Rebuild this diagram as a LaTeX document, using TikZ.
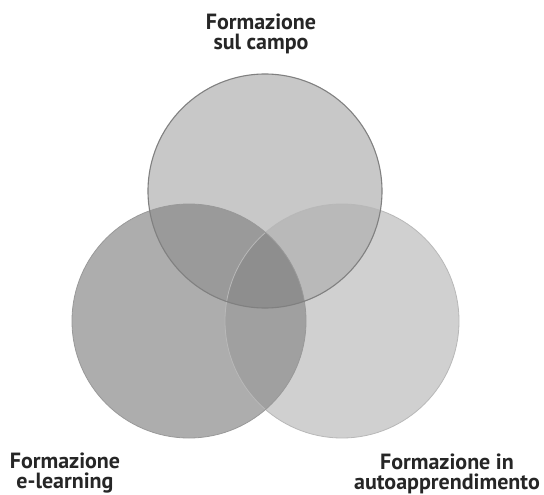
\documentclass[tikz,border=0pt]{standalone}
\usepackage{fontspec}
\setmainfont{PT Sans}
\definecolor{campofill}{HTML}{C8C8C8}
\definecolor{elearnfill}{HTML}{ADADAD}
\definecolor{autofill}{HTML}{D0D0D0}
\definecolor{campoelearn}{HTML}{9A9A9A}
\definecolor{campoauto}{HTML}{B9B9B9}
\definecolor{elearnauto}{HTML}{A0A0A0}
\definecolor{allthree}{HTML}{8E8E8E}
\definecolor{labeltext}{HTML}{262626}
\begin{document}
\begin{tikzpicture}[x=1pt,y=-1pt,
    vennlabel/.style={font=\bfseries\fontsize{22}{20}\selectfont, align=center, inner sep=0pt, text=labeltext}]
    \fill[white] (0,0) rectangle (544,495);
    \useasboundingbox (0,0) rectangle (544,495);
    \coordinate (campo) at (265,191);
    \coordinate (elearn) at (189,321);
    \coordinate (auto) at (342,321);
    % base fills
    \fill[elearnfill] (elearn) circle (117pt);
    \fill[autofill] (auto) circle (117pt);
    \fill[campofill] (campo) circle (117pt);
    % overlaps
    \begin{scope}
      \clip (campo) circle (117pt);
      \fill[campoelearn] (elearn) circle (117pt);
      \fill[campoauto] (auto) circle (117pt);
    \end{scope}
    \begin{scope}
      \clip (elearn) circle (117pt);
      \fill[elearnauto] (auto) circle (117pt);
    \end{scope}
    \begin{scope}
      \clip (campo) circle (117pt);
      \clip (elearn) circle (117pt);
      \fill[allthree] (auto) circle (117pt);
    \end{scope}
    % outlines
    \draw[line width=0.8pt, black!28] (auto) circle (117pt);
    \draw[line width=0.8pt, black!40] (elearn) circle (117pt);
    \draw[line width=1.1pt, black!50] (campo) circle (117pt);
    \node[vennlabel] (campolbl) at (261,34) {Formazione\\sul campo};
    \node[vennlabel] (elearnlbl) at (65,473.5) {Formazione\\e-learning};
    \node[vennlabel] (autolbl) at (447,473.5) {Formazione in\\autoapprendimento};
\end{tikzpicture}
\end{document}
